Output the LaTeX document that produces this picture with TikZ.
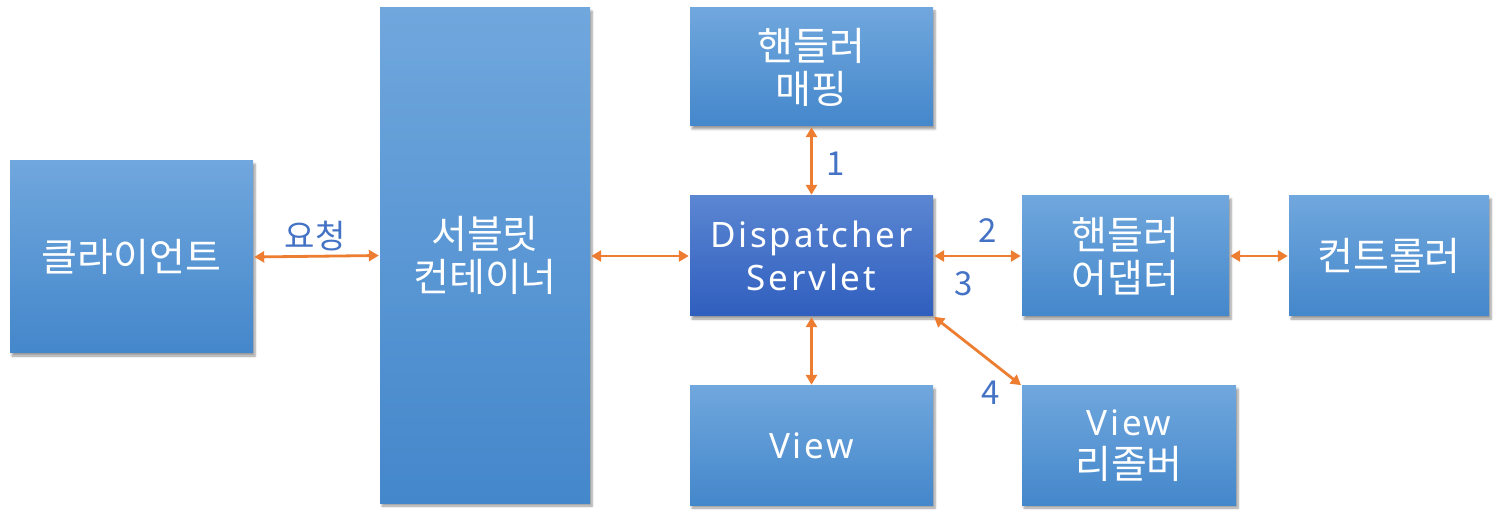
\documentclass[tikz,border=0pt]{standalone}
\usepackage{fontspec}
\setmainfont{Noto Sans CJK KR}
\newfontfamily\latinf[LetterSpace=8]{Noto Sans}
\usetikzlibrary{shadows.blur,arrows.meta}
\definecolor{btop}{HTML}{70A7DD}
\definecolor{bbot}{HTML}{4487CB}
\definecolor{dtop}{HTML}{5B86D2}
\definecolor{dbot}{HTML}{2F5EBE}
\definecolor{arr}{HTML}{ED7D31}
\definecolor{lbl}{HTML}{4472C4}
\tikzset{
  box/.style={draw=none, top color=btop, bottom color=bbot, inner sep=0pt,
    blur shadow={shadow xshift=2pt, shadow yshift=-3pt, shadow blur steps=6, shadow opacity=40},
    text=white, font=\fontsize{39}{43}\selectfont, align=center},
  dbox/.style={box, top color=dtop, bottom color=dbot},
  link/.style={draw=arr, line width=2.8pt, {Triangle[length=10pt,width=11pt]}-{Triangle[length=10pt,width=11pt]}, shorten <=1pt, shorten >=1pt},
  lab/.style={text=lbl, font=\fontsize{33}{36}\selectfont, inner sep=0pt}
}
\newcommand{\lat}[1]{{\latinf\fontsize{35}{43}\selectfont #1}}
\begin{document}
\begin{tikzpicture}[x=1pt,y=-1pt]
\useasboundingbox (0,0) rectangle (1499,518);
\node[box, minimum width=243pt, minimum height=192pt] (client) at (131.5,257) {클라이언트};
\node[box, minimum width=210pt, minimum height=495pt] (cont) at (485,255.5) {서블릿\\컨테이너};
\node[box, minimum width=243pt, minimum height=118pt] (map) at (811.5,67) {핸들러\\매핑};
\node[dbox, minimum width=243pt, minimum height=120pt] (ds) at (811.5,256) {\lat{Dispatcher}\\\lat{Servlet}};
\node[box, minimum width=243pt, minimum height=119pt] (view) at (811.5,445.5) {\lat{View}};
\node[box, minimum width=207pt, minimum height=120pt] (adp) at (1125.5,256) {핸들러\\어댑터};
\node[box, minimum width=200pt, minimum height=120pt] (ctrl) at (1389,256) {컨트롤러};
\node[box, minimum width=214pt, minimum height=119pt] (res) at (1129,445.5) {\lat{View}\\리졸버};
\draw[link] (client.east) -- (cont.west);
\node[lab] at (315,236) {요청};
\draw[link] (cont.east |- ds.west) -- (ds.west);
\draw[link] (map.south) -- (ds.north);
\node[lab] at (836,164) {1};
\draw[link] (ds.east) -- (adp.west);
\node[lab] at (988,231) {2};
\node[lab] at (964,284) {3};
\draw[link] (adp.east) -- (ctrl.west);
\draw[link] (ds.south) -- (view.north);
\draw[link] (ds.south east) -- (res.north west);
\node[lab] at (991,393) {4};
\end{tikzpicture}
\end{document}
